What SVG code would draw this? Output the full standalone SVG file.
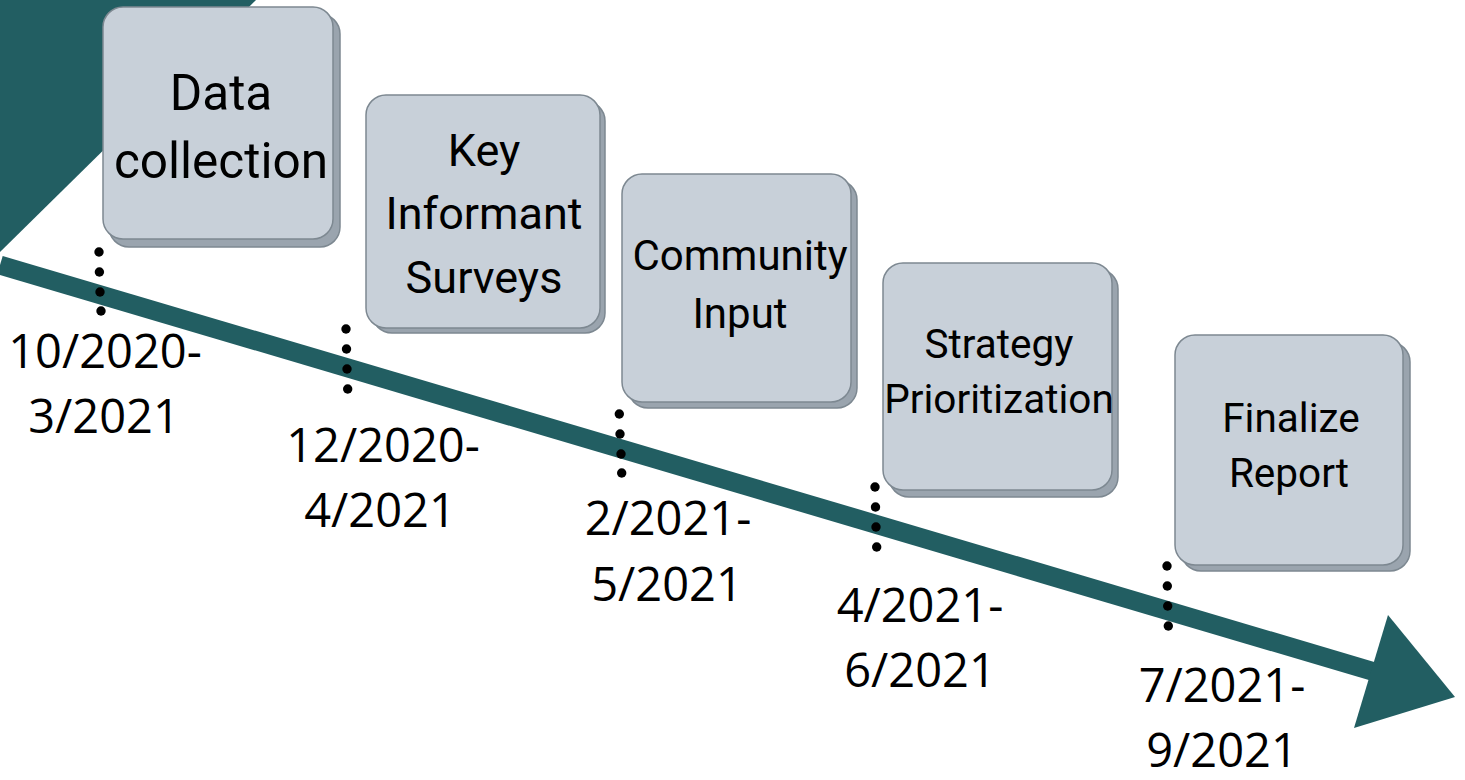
<svg xmlns="http://www.w3.org/2000/svg" width="1465" height="780" viewBox="0 0 1465 780">
<style>
.shadow{fill:#9aa4ae;stroke:#7d8891;stroke-width:1.5}
.box{fill:#c8d0d9;stroke:#7d8891;stroke-width:1.5}
.bt{font-family:Roboto,"Liberation Sans",sans-serif;fill:#000;text-anchor:middle}
.dt{font-family:"Open Sans","Noto Sans","Liberation Sans",sans-serif;font-size:47px;fill:#000;text-anchor:middle}
.dot{fill:#000}
</style>
<rect width="1465" height="780" fill="#fff"/>
<polygon points="0,0 256,0 0,252" fill="#225e62"/>
<g id="connectors">
<line x1="0" y1="265" x2="1385" y2="675" stroke="#225e62" stroke-width="19"/>
<polygon points="1455,697 1388,615 1354,728" fill="#225e62"/>
</g>
<g id="node1">
<rect class="shadow" x="109" y="14" width="231" height="233" rx="20"/>
<rect class="box" x="103" y="7" width="230" height="232" rx="20"/>
<text class="bt" font-size="49.5" x="221" y="110">Data</text>
<text class="bt" font-size="49.5" x="221" y="178">collection</text>
</g>
<g id="node2">
<rect class="shadow" x="372" y="101" width="233" height="232" rx="20"/>
<rect class="box" x="366" y="95" width="234" height="233" rx="20"/>
<text class="bt" font-size="45" x="484" y="166">Key</text>
<text class="bt" font-size="45" x="484" y="229">Informant</text>
<text class="bt" font-size="45" x="484" y="293">Surveys</text>
</g>
<g id="node3">
<rect class="shadow" x="628" y="180" width="229" height="228" rx="20"/>
<rect class="box" x="622" y="174" width="229" height="228" rx="20"/>
<text class="bt" font-size="42" x="740" y="270">Community</text>
<text class="bt" font-size="42" x="740" y="328">Input</text>
</g>
<g id="node4">
<rect class="shadow" x="889" y="269" width="229" height="228" rx="20"/>
<rect class="box" x="883" y="263" width="229" height="227" rx="20"/>
<text class="bt" font-size="40.5" x="999" y="358">Strategy</text>
<text class="bt" font-size="40.5" x="999" y="413">Prioritization</text>
</g>
<g id="node5">
<rect class="shadow" x="1181" y="342" width="229" height="229" rx="20"/>
<rect class="box" x="1175" y="335" width="228" height="230" rx="20"/>
<text class="bt" font-size="40.5" x="1291" y="432">Finalize</text>
<text class="bt" font-size="40.5" x="1289" y="487">Report</text>
</g>
<g id="dots">
<circle class="dot" cx="99" cy="252" r="4.7"/><circle class="dot" cx="99.4" cy="272" r="4.7"/><circle class="dot" cx="100" cy="292" r="4.7"/><circle class="dot" cx="101" cy="311" r="4.7"/>
<circle class="dot" cx="346" cy="329" r="4.7"/><circle class="dot" cx="346.5" cy="349" r="4.7"/><circle class="dot" cx="347" cy="369" r="4.7"/><circle class="dot" cx="347.7" cy="389" r="4.7"/>
<circle class="dot" cx="619.3" cy="414" r="4.7"/><circle class="dot" cx="620" cy="434" r="4.7"/><circle class="dot" cx="621" cy="454" r="4.7"/><circle class="dot" cx="621.7" cy="473" r="4.7"/>
<circle class="dot" cx="875" cy="487" r="4.7"/><circle class="dot" cx="875.5" cy="507" r="4.7"/><circle class="dot" cx="876" cy="527" r="4.7"/><circle class="dot" cx="876.7" cy="547" r="4.7"/>
<circle class="dot" cx="1167" cy="566" r="4.7"/><circle class="dot" cx="1167.3" cy="586" r="4.7"/><circle class="dot" cx="1167.7" cy="606" r="4.7"/><circle class="dot" cx="1168.3" cy="626" r="4.7"/>
</g>
<g id="dates">
<text class="dt" x="105" y="368">10/2020-</text>
<text class="dt" x="104" y="433">3/2021</text>
<text class="dt" x="383" y="462">12/2020-</text>
<text class="dt" x="380" y="527">4/2021</text>
<text class="dt" x="668" y="535">2/2021-</text>
<text class="dt" x="667" y="601">5/2021</text>
<text class="dt" x="920" y="622">4/2021-</text>
<text class="dt" x="920" y="687">6/2021</text>
<text class="dt" x="1222" y="702">7/2021-</text>
<text class="dt" x="1222" y="767">9/2021</text>
</g>
</svg>
